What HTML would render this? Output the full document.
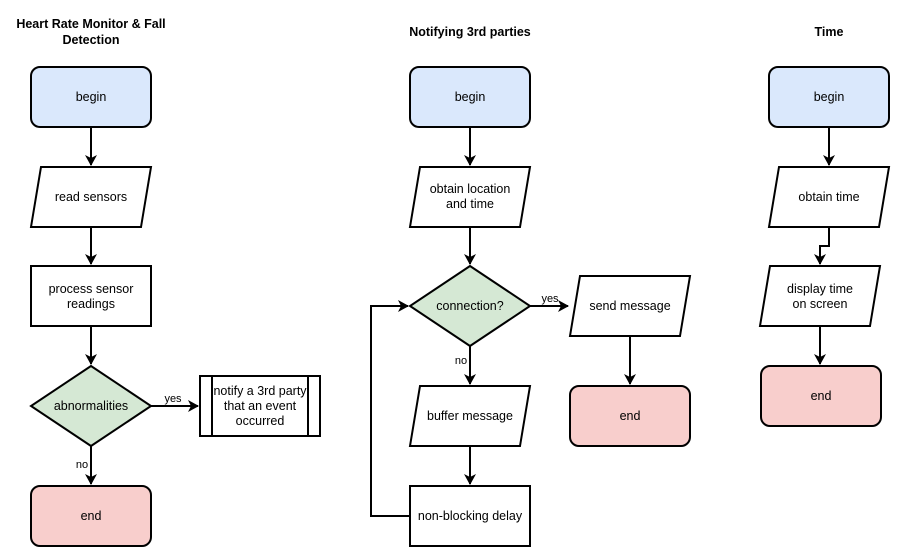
<!DOCTYPE html>
<html><head><style>body{margin:0;background:#fff}svg{display:block}text{font-family:"Liberation Sans",Arial,sans-serif;font-size:12.5px;fill:#000;text-anchor:middle}</style></head><body>
<svg width="921" height="547" viewBox="0 0 921 547" xmlns="http://www.w3.org/2000/svg">
<defs><marker id="a" markerWidth="12" markerHeight="12" refX="10" refY="6" orient="auto" markerUnits="userSpaceOnUse"><path d="M0,0 L11,6 L0,12 L3,6 Z" fill="#000"/></marker></defs>
<g stroke="#000" stroke-width="2" fill="none">
<rect x="31" y="67" width="120" height="60" rx="9" fill="#dae8fc"/>
<path d="M41,167 H151 L141,227 H31 Z" fill="#fff"/>
<rect x="31" y="266" width="120" height="60" fill="#fff"/>
<path d="M91,366 L151,406 L91,446 L31,406 Z" fill="#d5e8d4"/>
<rect x="200" y="376" width="120" height="60" fill="#fff"/>
<path d="M212,376 V436 M308,376 V436"/>
<rect x="31" y="486" width="120" height="60" rx="9" fill="#f8cecc"/>
<path d="M91,127 V165" marker-end="url(#a)"/>
<path d="M91,227 V264" marker-end="url(#a)"/>
<path d="M91,326 V364" marker-end="url(#a)"/>
<path d="M151,406 H198" marker-end="url(#a)"/>
<path d="M91,446 V484" marker-end="url(#a)"/>
<rect x="410" y="67" width="120" height="60" rx="9" fill="#dae8fc"/>
<path d="M420,167 H530 L520,227 H410 Z" fill="#fff"/>
<path d="M470,266 L530,306 L470,346 L410,306 Z" fill="#d5e8d4"/>
<path d="M580,276 H690 L680,336 H570 Z" fill="#fff"/>
<rect x="570" y="386" width="120" height="60" rx="9" fill="#f8cecc"/>
<path d="M420,386 H530 L520,446 H410 Z" fill="#fff"/>
<rect x="410" y="486" width="120" height="60" fill="#fff"/>
<path d="M470,127 V165" marker-end="url(#a)"/>
<path d="M470,227 V264" marker-end="url(#a)"/>
<path d="M530,306 H568" marker-end="url(#a)"/>
<path d="M630,336 V384" marker-end="url(#a)"/>
<path d="M470,346 V384" marker-end="url(#a)"/>
<path d="M470,446 V484" marker-end="url(#a)"/>
<path d="M410,516 H371 V306 H408" marker-end="url(#a)"/>
<rect x="769" y="67" width="120" height="60" rx="9" fill="#dae8fc"/>
<path d="M779,167 H889 L879,227 H769 Z" fill="#fff"/>
<path d="M770,266 H880 L870,326 H760 Z" fill="#fff"/>
<rect x="761" y="366" width="120" height="60" rx="9" fill="#f8cecc"/>
<path d="M829,127 V165" marker-end="url(#a)"/>
<path d="M829,227 V246 H820 V264" marker-end="url(#a)"/>
<path d="M820,326 V364" marker-end="url(#a)"/>
</g>
<g style="font-weight:bold;font-size:13.5px">
<text x="91" y="28">Heart Rate Monitor &amp; Fall</text>
<text x="91" y="44">Detection</text>
<text x="470" y="36">Notifying 3rd parties</text>
<text x="829" y="36">Time</text>
</g>
<text x="91" y="101">begin</text>
<text x="91" y="201">read sensors</text>
<text x="91" y="293">process sensor</text>
<text x="91" y="308">readings</text>
<text x="91" y="410">abnormalities</text>
<text x="260" y="395">notify a 3rd party</text>
<text x="260" y="410">that an event</text>
<text x="260" y="425">occurred</text>
<text x="173" y="402" style="font-size:11px">yes</text>
<text x="82" y="468" style="font-size:11px">no</text>
<text x="91" y="520">end</text>
<text x="470" y="101">begin</text>
<text x="470" y="193">obtain location</text>
<text x="470" y="208">and time</text>
<text x="470" y="310">connection?</text>
<text x="550" y="302" style="font-size:11px">yes</text>
<text x="461" y="364" style="font-size:11px">no</text>
<text x="630" y="310">send message</text>
<text x="630" y="420">end</text>
<text x="470" y="420">buffer message</text>
<text x="470" y="520">non-blocking delay</text>
<text x="829" y="101">begin</text>
<text x="829" y="201">obtain time</text>
<text x="820" y="293">display time</text>
<text x="820" y="308">on screen</text>
<text x="821" y="400">end</text>
</svg>
</body></html>
